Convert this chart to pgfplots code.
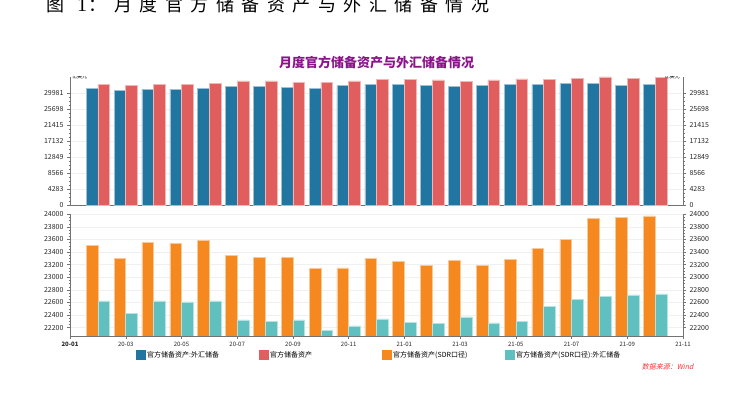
\documentclass[border=0pt]{standalone}
\usepackage{pgfplots}
\pgfplotsset{compat=1.18}
\usepackage{pgfplotstable}
\usepackage{fontspec}
\setmainfont{Noto Sans CJK SC}
\newfontfamily\serifnum{Liberation Serif}
\newfontfamily\cjkslant{Noto Sans CJK SC}[FakeSlant=0.2]
\definecolor{cblue}{RGB}{33,118,161}
\definecolor{cred}{RGB}{224,94,94}
\definecolor{corange}{RGB}{245,136,31}
\definecolor{cteal}{RGB}{96,191,191}
\definecolor{tpurple}{RGB}{139,20,139}
\definecolor{srcred}{RGB}{255,51,51}

\pgfplotstableread{
x blue red orange teal
1 31133 32392 23502 22624
2 30678 31936 23306 22429
3 31053 32204 23556 22624
4 31053 32392 23544 22608
5 31133 32552 23587 22624
6 31669 33195 23349 22322
7 31749 33195 23317 22302
8 31481 32820 23317 22322
9 31320 32740 23143 22159
10 31936 33195 23148 22227
11 32285 33624 23306 22338
12 32285 33543 23254 22286
13 32124 33463 23184 22270
14 31856 33007 23270 22370
15 32017 33463 23195 22275
16 32392 33731 23280 22302
17 32204 33543 23460 22533
18 32472 33811 23603 22651
19 32472 34266 23937 22698
20 32124 33811 23952 22719
21 32285 34078 23973 22735
}\data

\pgfplotsset{
  common/.style={
    scale only axis, width=613pt, xmin=0, xmax=22,
    tick align=outside,
    major tick length=3pt, minor tick length=1.5pt,
    tick style={black!55, line width=0.4pt},
    axis line style={black!55, line width=0.5pt},
    tick label style={font=\fontsize{7}{8}\selectfont, text=black!85},
    /pgf/number format/assume math mode=true,
    scaled y ticks=false,
    yticklabel style={/pgf/number format/fixed, /pgf/number format/1000 sep={}},
    minor y tick num=3,
  },
  topax/.style={common, anchor=south west, at={(70pt,187.7pt)}, height=128.3pt,
    ymin=0, ymax=34264, ytick={0,4283,8566,12849,17132,21415,25698,29981}},
  botax/.style={common, anchor=south west, at={(70pt,57pt)}, height=121.7pt,
    ymin=22068, ymax=24000, ytick={22200,22400,...,24000}},
  mybar/.style={ybar, bar width=0.42, fill=#1, draw=#1!45!white, line width=0.5pt},
}

\begin{document}
\begin{tikzpicture}[x=1pt,y=1pt]
\useasboundingbox (0,0) rectangle (736,393);
% header
\node[anchor=base west, inner sep=0, font=\fontsize{18}{18}\selectfont] at (46,381.5) {图};
\node[anchor=base west, inner sep=0, font=\serifnum\fontsize{20}{20}\selectfont] at (77,381.5) {1};
\node[anchor=base west, inner sep=0, font=\fontsize{18}{18}\selectfont] at (88,381.5) {：};
\foreach \c [count=\i from 0] in {月,度,官,方,储,备,资,产,与,外,汇,储,备,情,况}
  \node[anchor=base west, inner sep=0, font=\fontsize{18}{18}\selectfont] at (114+25.5*\i,381.5) {\c};
% title
\node[font=\bfseries\fontsize{13}{13}\selectfont, text=tpurple] at (376.5,330.3) {月度官方储备资产与外汇储备情况};

% top chart
\begin{axis}[topax, axis y line*=left, axis x line*=bottom, xtick=\empty,
  ymajorgrids, major grid style={black!6}]
\addplot[mybar=cblue, bar shift=-0.21] table[x=x,y=blue]{\data};
\addplot[mybar=cred, bar shift=0.21] table[x=x,y=red]{\data};
\node[anchor=west, inner sep=0, font=\fontsize{5}{5}\selectfont] at (rel axis cs:0,1) [xshift=2pt] {亿美元};
\node[anchor=east, inner sep=0, font=\fontsize{5}{5}\selectfont] at (rel axis cs:1,1) [xshift=-3pt] {亿美元};
\end{axis}
\begin{axis}[topax, axis y line*=right, axis x line=none]
\end{axis}

% bottom chart
\begin{axis}[botax, axis y line*=left, axis x line*=bottom,
  xtick={0,2,...,22}, minor x tick num=1,
  xticklabels={\textbf{20-01},20-03,20-05,20-07,20-09,20-11,21-01,21-03,21-05,21-07,21-09,21-11},
  xticklabel style={font=\fontsize{6}{7}\selectfont},
  ymajorgrids, major grid style={black!6},
  legend columns=4,
  legend image code/.code={\fill[#1,draw=none] (0pt,-5pt) rectangle (10pt,5pt);},
  legend style={at={(0.1077,-0.156)}, anchor=west, draw=none, fill=none,
    inner sep=0pt, column sep=0pt, font=\fontsize{7}{7.5}\selectfont,
    nodes={inner sep=1pt, text width=111pt, align=left, xshift=-4pt}},
]
\addlegendimage{fill=cblue, draw=none}
\addlegendentry{官方储备资产:外汇储备}
\addlegendimage{fill=cred, draw=none}
\addlegendentry{官方储备资产}
\addplot[mybar=corange, bar shift=-0.21] table[x=x,y=orange]{\data};
\addlegendentry{官方储备资产(SDR口径)}
\addplot[mybar=cteal, bar shift=0.21] table[x=x,y=teal]{\data};
\addlegendentry{官方储备资产(SDR口径):外汇储备}
\node[anchor=south west, inner sep=0, font=\fontsize{5}{5}\selectfont] at (rel axis cs:0,1) [xshift=2pt,yshift=1pt] {亿SDR};
\node[anchor=south east, inner sep=0, font=\fontsize{5}{5}\selectfont] at (rel axis cs:1,1) [xshift=-1pt,yshift=1pt] {亿SDR};
\end{axis}
\begin{axis}[botax, axis y line*=right, axis x line=none]
\end{axis}

\node[anchor=east, font=\cjkslant\fontsize{7}{7}\selectfont, text=srcred] at (697,26) {数据来源：Wind};
\end{tikzpicture}
\end{document}
